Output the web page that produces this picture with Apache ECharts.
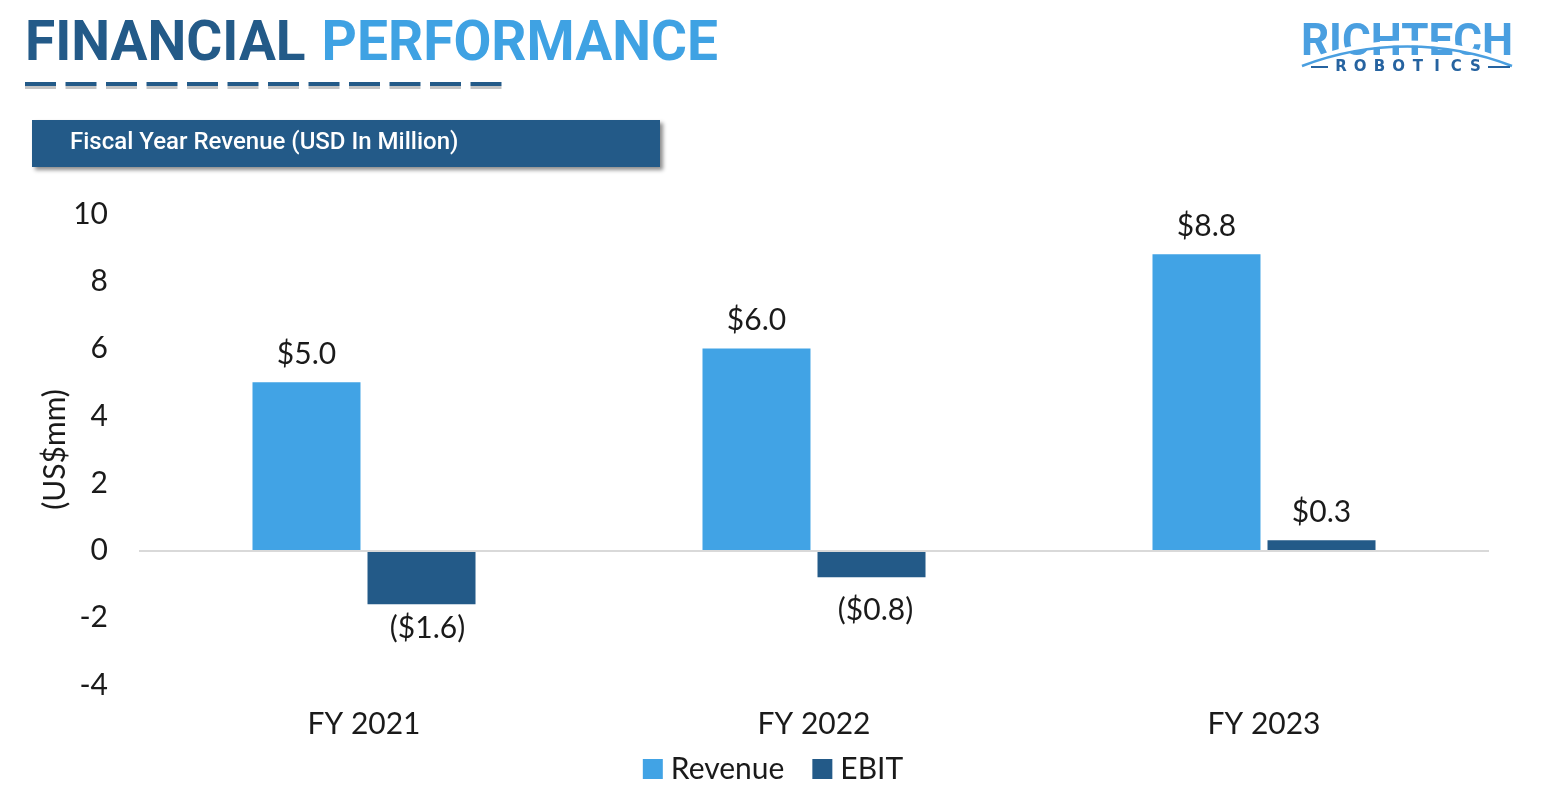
<!DOCTYPE html>
<html>
<head>
<meta charset="utf-8">
<script src="https://cdn.jsdelivr.net/npm/echarts@6/dist/echarts.min.js"></script>
<style>
html,body{margin:0;padding:0;background:#fff;}
#chart{width:1546px;height:792px;}
</style>
</head>
<body>
<div id="chart"></div>
<script>
// ---- data ----
const categories = ['FY 2021', 'FY 2022', 'FY 2023'];
const revenue = [5.0, 6.0, 8.8];
const ebit = [-1.6, -0.8, 0.3];
const seriesNames = ['Revenue', 'EBIT'];
const yTicks = { min: -4, max: 10, interval: 2 };

// ---- styles ----
const DARK = '#235a88';
const LIGHT = '#41a3e5';
const TXT = '#1a1a1a';
const FONT = 'Lato, "Noto Sans", sans-serif';
const FS = 30;

function fmt(v) {
  return v < 0 ? '($' + Math.abs(v).toFixed(1) + ')' : '$' + v.toFixed(1);
}
const negDist = [9, 18, 9];
const negShift = [6, 4, 0];

const chart = echarts.init(document.getElementById('chart'));

const dashes = [];
for (let i = 0; i < 12; i++) {
  const x = 25 + i * 40.5;
  dashes.push({ type: 'rect', shape: { x: x, y: 86, width: 31, height: 3 }, style: { fill: '#c4c4c4' } });
  dashes.push({ type: 'rect', shape: { x: x, y: 82, width: 31, height: 4 }, style: { fill: DARK } });
}
const logoLetters = 'ROBOTICS'.split('').map((ch, i) => ({
  type: 'text', x: 1341 + i * 19.2, y: 67,
  style: { text: ch, fill: '#2663a0', fontSize: 15, fontWeight: 'bold',
    fontFamily: '"DejaVu Sans", sans-serif', align: 'center', verticalAlign: 'middle' }
}));

const option = {
  backgroundColor: '#fff',
  animation: false,
  textStyle: { fontFamily: FONT },
  graphic: [
    {
      type: 'text', left: 25, top: 19,
      style: {
        text: '{a|FINANCIAL}{s| }{b|PERFORMANCE}',
        rich: {
          a: { fill: DARK, fontSize: 55, fontWeight: 'bold', fontFamily: 'Roboto, sans-serif' },
          s: { fontSize: 55, width: 16 },
          b: { fill: '#3fa2e3', fontSize: 55, fontWeight: 'bold', fontFamily: 'Roboto, sans-serif' }
        }
      }
    },
    ...dashes,
    {
      type: 'rect', shape: { x: 32, y: 120, width: 628, height: 47 },
      style: { fill: DARK, shadowBlur: 4, shadowOffsetX: 3, shadowOffsetY: 3, shadowColor: 'rgba(0,0,0,0.45)' }
    },
    {
      type: 'text', x: 70, y: 143,
      style: { text: 'Fiscal Year Revenue (USD In Million)', fill: '#fff', fontSize: 24, fontWeight: 500,
        fontFamily: 'Roboto, sans-serif', verticalAlign: 'middle' }
    },
    // logo
    {
      type: 'text', x: 1407, y: 44,
      style: { text: 'RICHTECH', fill: '#4a9fe0', fontSize: 44, fontWeight: 'bold', fontFamily: 'Roboto, sans-serif',
        align: 'center', verticalAlign: 'middle' }
    },
    {
      type: 'bezierCurve', shape: { x1: 1302, y1: 64, x2: 1512, y2: 64, cpx1: 1370, cpy1: 36, cpx2: 1445, cpy2: 36 },
      style: { stroke: '#fff', lineWidth: 5, fill: null }
    },
    {
      type: 'bezierCurve', shape: { x1: 1302, y1: 66, x2: 1512, y2: 66, cpx1: 1370, cpy1: 40, cpx2: 1445, cpy2: 40 },
      style: { stroke: '#4a9fe0', lineWidth: 2.5, fill: null }
    },
    ...logoLetters,
    { type: 'rect', shape: { x: 1311, y: 66, width: 17, height: 2 }, style: { fill: '#2663a0' } },
    { type: 'rect', shape: { x: 1488, y: 66, width: 22, height: 2 }, style: { fill: '#2663a0' } }
  ],
  grid: { left: 139, right: 57, top: 214, bottom: 107, containLabel: false },
  legend: {
    bottom: 3, left: 'center',
    itemWidth: 20, itemHeight: 20, itemGap: 28, icon: 'rect',
    textStyle: { fontSize: FS, color: TXT, fontFamily: FONT, padding: [0, 0, 0, 3] },
    data: seriesNames
  },
  xAxis: {
    type: 'category', data: categories,
    axisLine: { show: false, onZero: false }, axisTick: { show: false },
    axisLabel: { fontSize: FS, color: TXT, margin: 24, fontFamily: FONT }
  },
  yAxis: {
    type: 'value', min: yTicks.min, max: yTicks.max, interval: yTicks.interval,
    splitLine: { show: false }, axisLine: { show: false }, axisTick: { show: false },
    axisLabel: { fontSize: FS, color: TXT, margin: 31, fontFamily: FONT },
    name: '(US$mm)', nameLocation: 'middle', nameRotate: 90, nameGap: 69, nameMoveOverlap: false,
    nameTextStyle: { fontSize: FS, color: TXT, fontFamily: FONT }
  },
  series: [
    {
      name: seriesNames[0], type: 'bar', data: revenue,
      barWidth: 108, barGap: '6.5%',
      itemStyle: { color: LIGHT },
      label: { show: true, position: 'top', distance: 13, fontSize: FS, color: TXT, fontFamily: FONT,
        formatter: p => fmt(p.value) },
      markLine: {
        silent: true, symbol: 'none', label: { show: false },
        lineStyle: { color: '#d9d9d9', width: 2, type: 'solid' },
        data: [{ yAxis: 0 }]
      },
      z: 3
    },
    {
      name: seriesNames[1], type: 'bar',
      data: ebit.map((v, i) => ({
        value: v,
        label: v < 0 ? { position: 'bottom', distance: negDist[i], offset: [negShift[i], 0] } : { position: 'top', distance: 13 }
      })),
      barWidth: 108, barGap: '6.5%',
      itemStyle: { color: DARK },
      label: { show: true, fontSize: FS, color: TXT, fontFamily: FONT, formatter: p => fmt(p.value) },
      z: 3
    }
  ]
};
chart.setOption(option);
</script>
</body>
</html>
